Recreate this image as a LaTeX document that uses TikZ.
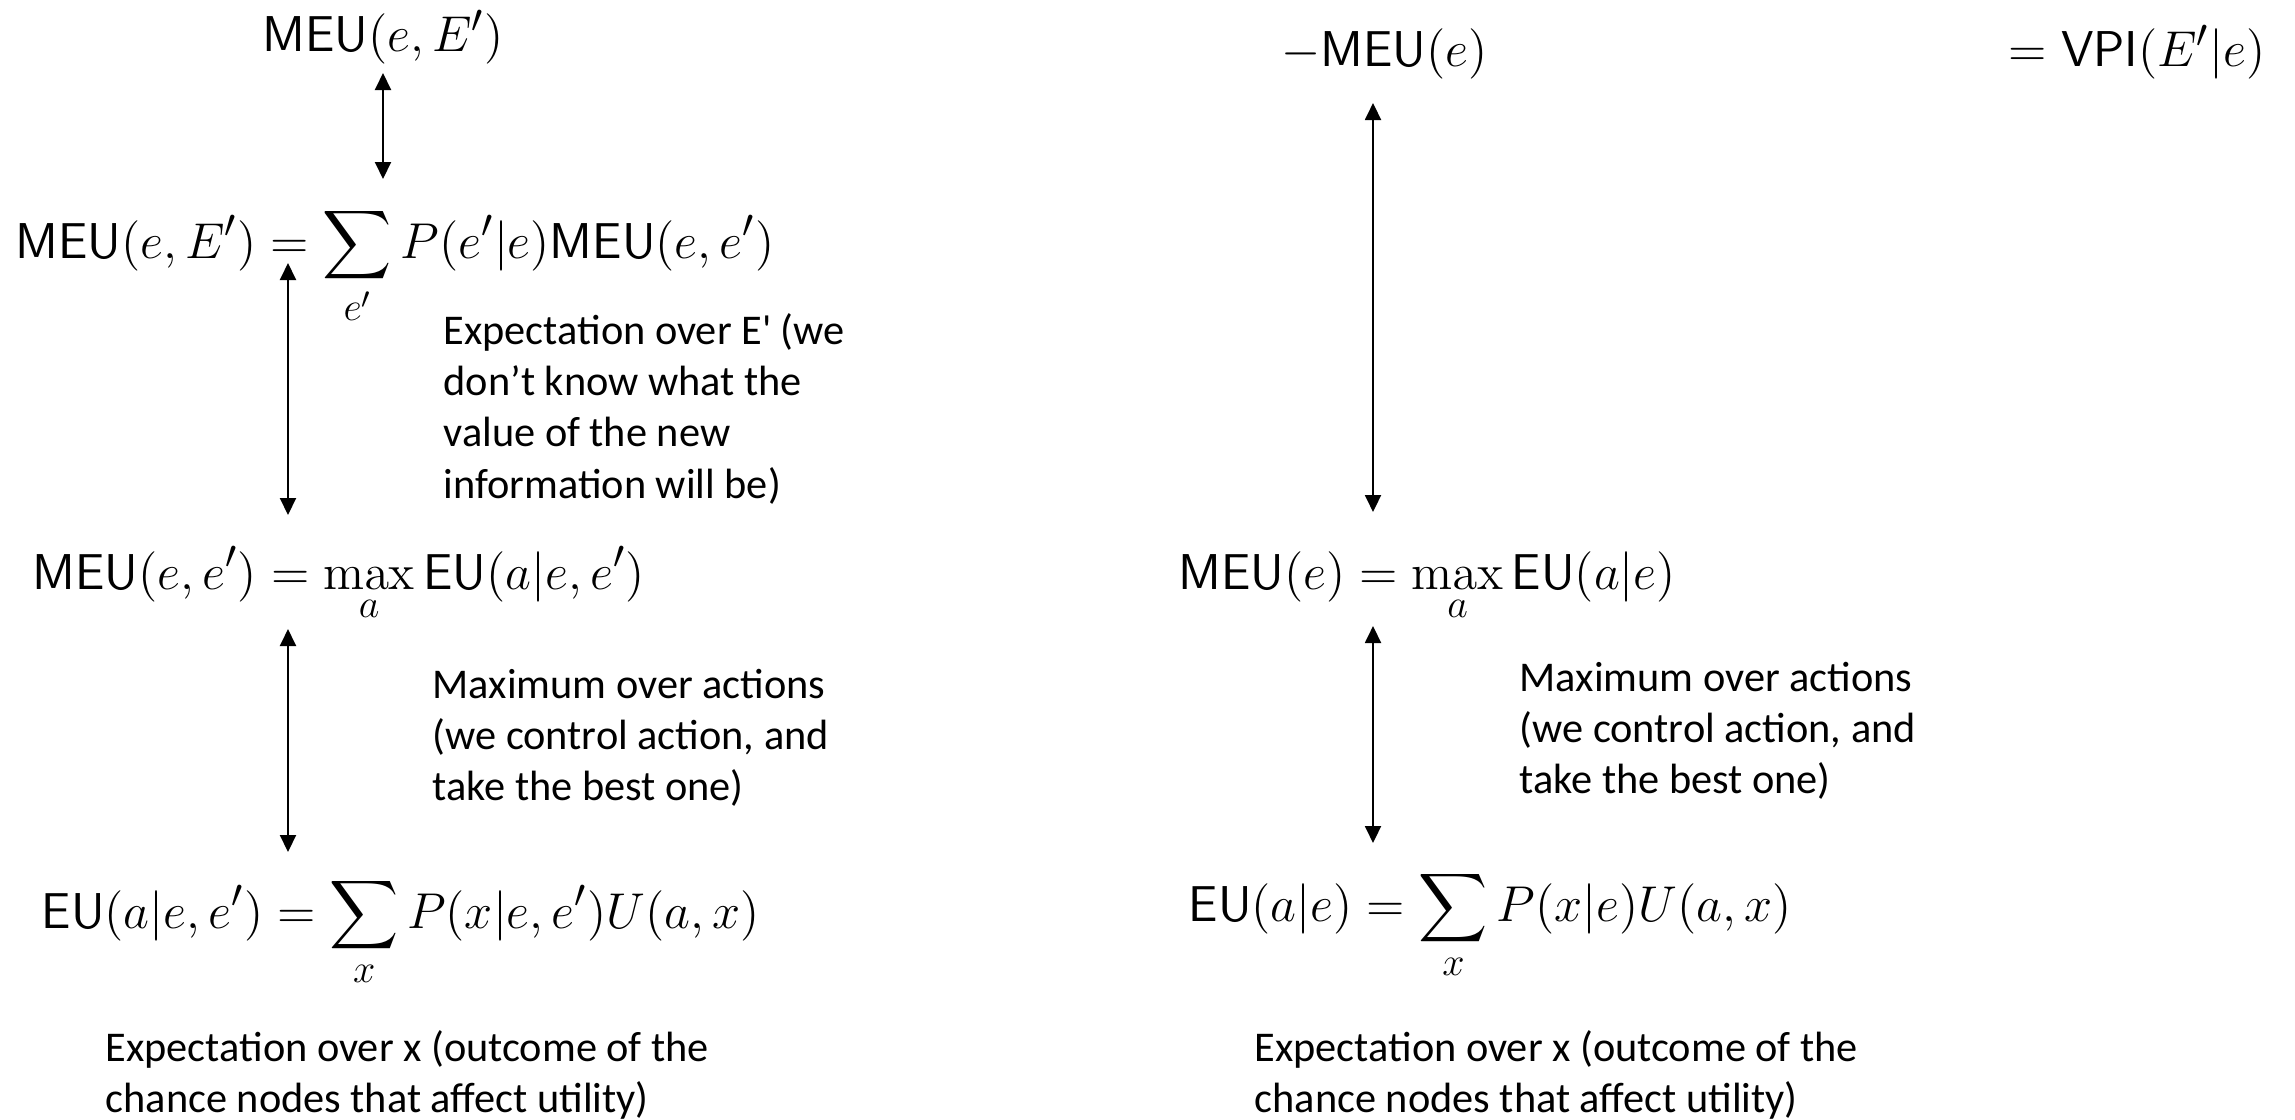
\RequirePackage{fix-cm}
\documentclass[tikz,border=0pt]{standalone}
\usepackage{amsmath}
\usepackage[no-math]{fontspec}
\newfontfamily\calib{Carlito}[Ligatures=TeXOff]
\usetikzlibrary{arrows.meta}

% formulas: large limits under the sum and max
\DeclareMathSizes{15.1}{15.1}{12}{9}

% multi-line note whose base is the first line's baseline
\newcommand{\notelines}[1]{\begin{tabular}[t]{@{}l@{}}#1\end{tabular}}

\tikzset{
  eqn/.style={inner sep=0pt, anchor=base west, font=\fontsize{15.1}{18}\selectfont},
  note/.style={inner sep=0pt, anchor=base west, font=\calib\fontsize{12.7}{15.4}\selectfont},
  link/.style={line width=0.6pt, {Triangle[length=5.1pt,width=4.8pt]}-{Triangle[length=5.1pt,width=4.8pt]}}
}

\begin{document}
\begin{tikzpicture}[x=0.3pt, y=-0.3pt]
  \useasboundingbox (0,0) rectangle (2295,1119);

  % left column: value with the extra evidence E'
  \node[eqn, anchor=base] (meuE) at (383,51) {$\mathsf{MEU}(e,E')$};
  \node[eqn] (sumE) at (15,258) {$\displaystyle \mathsf{MEU}(e,E') = \sum_{e'} P(e'|e)\mathsf{MEU}(e,e')$};
  \node[eqn] (maxL) at (32,589) {$\displaystyle \mathsf{MEU}(e,e') = \max_a \mathsf{EU}(a|e,e')$};
  \node[eqn] (euL) at (41,928) {$\displaystyle \mathsf{EU}(a|e,e') = \sum_x P(x|e,e')U(a,x)$};

  \coordinate (a1t) at (383,73);  \coordinate (a1b) at (383,179);
  \coordinate (a2t) at (288,263); \coordinate (a2b) at (288,515);
  \coordinate (a3t) at (288,629); \coordinate (a3b) at (288,852);
  \draw[link] (a1t) -- (a1b);
  \draw[link] (a2t) -- (a2b);
  \draw[link] (a3t) -- (a3b);

  \node[note] (noteE) at (443,344) {\notelines{Expectation over E' (we\\don’t know what the\\value of the new\\information will be)}};
  \node[note] (noteMaxL) at (432,698) {\notelines{Maximum over actions\\(we control action, and\\take the best one)}};
  \node[note] (noteXL) at (105,1061) {\notelines{Expectation over x (outcome of the\\chance nodes that affect utility)}};

  % right column: value without it, and the difference
  \node[eqn] (meuMinus) at (1281,66) {$-\mathsf{MEU}(e)$};
  \node[eqn] (vpi) at (2008,66) {$=\mathsf{VPI}(E'|e)$};
  \node[eqn] (maxR) at (1178,589) {$\displaystyle \mathsf{MEU}(e) = \max_a \mathsf{EU}(a|e)$};
  \node[eqn] (euR) at (1188,921) {$\displaystyle \mathsf{EU}(a|e) = \sum_x P(x|e)U(a,x)$};

  \coordinate (a4t) at (1373,103); \coordinate (a4b) at (1373,512);
  \coordinate (a5t) at (1373,626); \coordinate (a5b) at (1373,843);
  \draw[link] (a4t) -- (a4b);
  \draw[link] (a5t) -- (a5b);

  \node[note] (noteMaxR) at (1519,691) {\notelines{Maximum over actions\\(we control action, and\\take the best one)}};
  \node[note] (noteXR) at (1254,1061) {\notelines{Expectation over x (outcome of the\\chance nodes that affect utility)}};
\end{tikzpicture}
\end{document}
